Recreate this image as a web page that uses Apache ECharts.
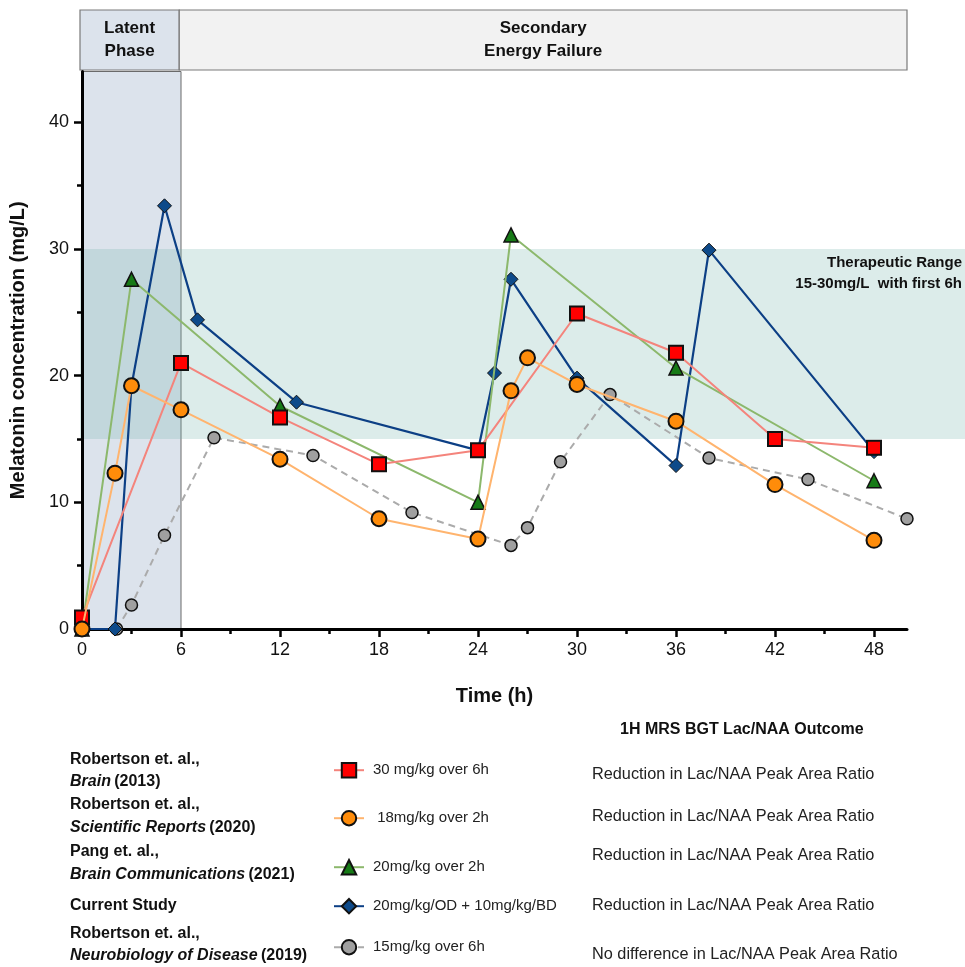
<!DOCTYPE html>
<html>
<head>
<meta charset="utf-8">
<script src="https://cdn.jsdelivr.net/npm/echarts@6/dist/echarts.min.js"></script>
<style>
  html, body { margin: 0; padding: 0; background: #fff; }
  #main { width: 965px; height: 967px; }
</style>
</head>
<body>
<div id="main"></div>
<script>
// melatonin levels (mg/L) against time (h), one pair of arrays per study
var redX = [0, 6, 12, 18, 24, 30, 36, 42, 48];
var redY = [0.9, 21.0, 16.7, 13.0, 14.1, 24.9, 21.8, 15.0, 14.3];

var orangeX = [0, 2, 3, 6, 12, 18, 24, 26, 27, 30, 36, 42, 48];
var orangeY = [0, 12.3, 19.2, 17.3, 13.4, 8.7, 7.1, 18.8, 21.4, 19.3, 16.4, 11.4, 7.0];

var greenX = [0, 3, 12, 24, 26, 36, 48];
var greenY = [0, 27.6, 17.6, 10.0, 31.1, 20.6, 11.7];

var blueX = [0, 2, 3, 5, 7, 13, 24, 25, 26, 30, 36, 38, 48];
var blueY = [0, 0, 19.2, 33.4, 24.4, 17.9, 14.1, 20.2, 27.6, 19.8, 12.9, 29.9, 14.0];

var grayX = [2.1, 3, 5, 8, 14, 20, 26, 27, 29, 32, 38, 44, 50];
var grayY = [0, 1.9, 7.4, 15.1, 13.7, 9.2, 6.6, 8.0, 13.2, 18.5, 13.5, 11.8, 8.7];

var xMajor = [0, 6, 12, 18, 24, 30, 36, 42, 48];
var xMinor = [3, 9, 15, 21, 27, 33, 39, 45];
var yMajor = [0, 10, 20, 30, 40];
var yMinor = [5, 15, 25, 35];

var seriesNames = ['30 mg/kg over 6h', ' 18mg/kg over 2h', '20mg/kg over 2h', '20mg/kg/OD + 10mg/kg/BD', '15mg/kg over 6h'];
var studies = [
    ['Robertson et. al.,', '{bi|Brain} {b|(2013)}'],
    ['Robertson et. al.,', '{bi|Scientific Reports} {b|(2020)}'],
    ['Pang et. al.,', '{bi|Brain Communications} {b|(2021)}'],
    ['Current Study'],
    ['Robertson et. al.,', '{bi|Neurobiology of Disease} {b|(2019)}']
];
var outcomes = ['Reduction in Lac/NAA Peak Area Ratio', 'Reduction in Lac/NAA Peak Area Ratio',
    'Reduction in Lac/NAA Peak Area Ratio', 'Reduction in Lac/NAA Peak Area Ratio',
    'No difference in Lac/NAA Peak Area Ratio'];

function pairs(xs, ys) {
    return xs.map(function (x, i) { return [x, ys[i]]; });
}

var FONT = '"Liberation Sans", Arial, Helvetica, sans-serif';

var myChart = echarts.init(document.getElementById('main'));

function dataSeries(name, xs, ys, z, symbol, size, fill, lineColor, lineWidth, dashed, borderWidth) {
    return {
        name: name,
        type: 'line',
        xAxisIndex: 0,
        yAxisIndex: 0,
        z: z,
        clip: false,
        symbol: symbol,
        symbolSize: size,
        itemStyle: { color: fill, borderColor: '#111', borderWidth: borderWidth },
        lineStyle: { color: lineColor, width: lineWidth, type: dashed ? [7, 5] : 'solid' },
        emphasis: { disabled: true },
        data: pairs(xs, ys)
    };
}

// legend rows and text table under the plot
var legendY = [771, 819, 868, 907, 948];
var legends = seriesNames.map(function (n, i) {
    return {
        data: [n],
        left: 328,
        top: legendY[i] - 14,
        itemWidth: 30,
        itemHeight: 18,
        selectedMode: false,
        textStyle: { fontSize: 15, color: '#222', fontFamily: FONT, padding: [0, 0, 0, 4] }
    };
});

var studyY = [[761, 783], [806, 829], [853, 876], [907], [935, 957]];
var outcomeY = [776, 818, 857, 907, 956];
var texts = [];
studies.forEach(function (lines, i) {
    lines.forEach(function (t, j) {
        texts.push({
            type: 'text',
            left: 70,
            top: studyY[i][j] - 9,
            style: {
                text: j === 0 ? '{b|' + t + '}' : t,
                rich: {
                    b: { fontSize: 16, fontWeight: 'bold', fontFamily: FONT, fill: '#111', lineHeight: 18 },
                    bi: { fontSize: 16, fontWeight: 'bold', fontStyle: 'italic', fontFamily: FONT, fill: '#111', lineHeight: 18 }
                }
            }
        });
    });
});
outcomes.forEach(function (t, i) {
    texts.push({
        type: 'text', left: 592, top: outcomeY[i] - 9,
        style: { text: t, font: '16.3px ' + FONT, fill: '#222' }
    });
});
texts.push({
    type: 'text', left: 620, top: 722,
    style: { text: '1H MRS BGT Lac/NAA Outcome', font: 'bold 16px ' + FONT, fill: '#111' }
});

var axisBlack = { color: '#000', width: 3 };

myChart.setOption({
    animation: false,
    textStyle: { fontFamily: FONT },
    grid: [
        { left: 80, right: 58, top: 71.5, bottom: 338 },   // plot
        { left: 80, right: 0, top: 71.5, bottom: 338 },    // therapeutic band, runs to the page edge
        { left: 80, right: 58, top: 10, height: 60 }       // phase header
    ],
    xAxis: [
        {
            gridIndex: 0, type: 'value', min: 0, max: 50, z: 3,
            axisLine: { lineStyle: axisBlack },
            axisTick: { customValues: xMajor, length: 8, lineStyle: { color: '#000', width: 2.5 } },
            axisLabel: { customValues: xMajor, fontSize: 18, color: '#111', margin: 12 },
            splitLine: { show: false },
            name: 'Time (h)', nameLocation: 'middle', nameGap: 57,
            nameTextStyle: { fontSize: 20, fontWeight: 'bold', color: '#111' }
        },
        {
            gridIndex: 0, type: 'value', min: 0, max: 50, z: 3, position: 'bottom',
            axisLine: { show: false },
            axisTick: { customValues: xMinor, length: 5, lineStyle: { color: '#000', width: 2.5 } },
            axisLabel: { show: false },
            splitLine: { show: false }
        },
        { gridIndex: 1, type: 'value', min: 0, max: 1, show: false },
        { gridIndex: 2, type: 'value', min: 0, max: 50, show: false }
    ],
    yAxis: [
        {
            gridIndex: 0, type: 'value', min: 0, max: 44, z: 3,
            axisLine: { show: true, lineStyle: axisBlack },
            axisTick: { show: true, customValues: yMajor, length: 8, lineStyle: { color: '#000', width: 2.5 } },
            axisLabel: { customValues: yMajor, fontSize: 18, color: '#111', margin: 13 },
            splitLine: { show: false },
            name: 'Melatonin concentration (mg/L)', nameLocation: 'middle', nameGap: 54,
            nameTextStyle: { fontSize: 20, fontWeight: 'bold', color: '#111' }
        },
        {
            gridIndex: 0, type: 'value', min: 0, max: 44, z: 3, position: 'left',
            axisLine: { show: false },
            axisTick: { show: true, customValues: yMinor, length: 5, lineStyle: { color: '#000', width: 2.5 } },
            axisLabel: { show: false },
            splitLine: { show: false }
        },
        { gridIndex: 1, type: 'value', min: 0, max: 44, show: false },
        { gridIndex: 2, type: 'value', min: 0, max: 1, show: false }
    ],
    legend: legends,
    graphic: { elements: texts },
    series: [
        {
            // latent phase shading
            type: 'line', xAxisIndex: 0, yAxisIndex: 0, z: 1, data: [],
            markArea: {
                silent: true,
                itemStyle: { color: '#dce3ec', borderColor: '#6a6a6a', borderWidth: 1 },
                data: [[{ xAxis: 0 }, { xAxis: 6 }]]
            }
        },
        {
            // therapeutic range band
            type: 'line', xAxisIndex: 2, yAxisIndex: 2, z: 2, data: [],
            markArea: {
                silent: true,
                itemStyle: { color: 'rgba(115,179,171,0.25)' },
                label: {
                    show: true, position: 'insideTopRight', distance: 3,
                    fontSize: 15, fontWeight: 'bold', color: '#111', lineHeight: 21, align: 'right'
                },
                data: [[{ yAxis: 15, name: 'Therapeutic Range\n15-30mg/L  with first 6h' }, { yAxis: 30 }]]
            }
        },
        {
            // phase header boxes
            type: 'line', xAxisIndex: 3, yAxisIndex: 3, z: 2, data: [],
            markArea: {
                silent: true,
                label: { show: true, position: 'inside', fontSize: 17, fontWeight: 'bold', color: '#111', lineHeight: 23 },
                data: [
                    [{ xAxis: 0, name: 'Latent\nPhase', itemStyle: { color: '#dce3ec', borderColor: '#7a7a7a', borderWidth: 1.2 } }, { xAxis: 6 }],
                    [{ xAxis: 6, name: 'Secondary\nEnergy Failure', itemStyle: { color: '#f2f2f2', borderColor: '#7a7a7a', borderWidth: 1.2 } }, { xAxis: 50 }]
                ]
            }
        },
        dataSeries(seriesNames[4], grayX, grayY, 4, 'circle', 12, '#a0a0a0', '#ababab', 2, true, 1.5),
        dataSeries(seriesNames[3], blueX, blueY, 5, 'diamond', 14, '#0d4a8a', '#0c3f85', 2.2, false, 1),
        dataSeries(seriesNames[2], greenX, greenY, 6, 'triangle', 14, '#167a16', '#8cb86c', 2, false, 1.5),
        dataSeries(seriesNames[0], redX, redY, 7, 'rect', 14, '#ff0000', '#f4847c', 2, false, 2),
        dataSeries(seriesNames[1], orangeX, orangeY, 8, 'circle', 15, '#ff8c0a', '#ffb46e', 2, false, 2)
    ]
});
</script>
</body>
</html>
